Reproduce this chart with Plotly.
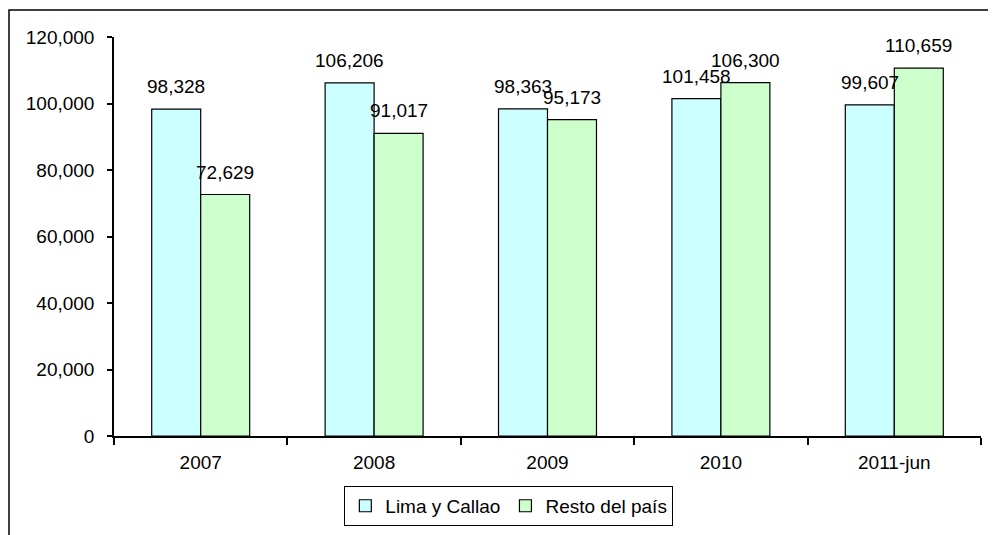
import plotly.graph_objects as go

categories = ["2007", "2008", "2009", "2010", "2011-jun"]
lima_callao = [98328, 106206, 98363, 101458, 99607]
resto_pais = [72629, 91017, 95173, 106300, 110659]
series_names = ["Lima y Callao", "Resto del país"]
y_ticks = [0, 20000, 40000, 60000, 80000, 100000, 120000]

FONT = "Liberation Sans, Arial, sans-serif"
FS = 19

fig = go.Figure()
fig.add_trace(go.Bar(x=categories, y=lima_callao, name=series_names[0],
                     marker=dict(color="#CCFFFF", line=dict(color="black", width=1.2))))
fig.add_trace(go.Bar(x=categories, y=resto_pais, name=series_names[1],
                     marker=dict(color="#CCFFCC", line=dict(color="black", width=1.2))))

annotations = []
for vals, shift in ((lima_callao, -24.5), (resto_pais, 24.5)):
    for i, v in enumerate(vals):
        annotations.append(dict(x=i, y=v, xref="x", yref="y", text=f"{v:,}", showarrow=False,
                                xshift=shift, yshift=10, yanchor="bottom",
                                font=dict(family=FONT, size=FS, color="black")))

fig.update_layout(
    width=996, height=535,
    margin=dict(l=106, r=23, t=29, b=107, autoexpand=False),
    paper_bgcolor="white", plot_bgcolor="white",
    font=dict(family=FONT, size=FS, color="black"),
    barmode="group", bargap=0.435, bargroupgap=0,
    showlegend=True,
    legend=dict(orientation="h", x=0.4554, xanchor="center", y=-0.125, yanchor="top",
                bordercolor="black", borderwidth=1, bgcolor="white",
                font=dict(family=FONT, size=FS), itemwidth=30),
    annotations=annotations,
    shapes=[dict(type="rect", xref="paper", yref="paper",
                 x0=-0.1211, x1=1.1, y0=-0.35, y1=1.0677,
                 line=dict(color="black", width=1.5), layer="below")],
)
fig.update_xaxes(type="category", range=[-0.5, 4.5], showline=True, linecolor="black", linewidth=1.5,
                 ticks="outside", tickson="boundaries", ticklen=7, tickcolor="black",
                 tickwidth=1.5, showgrid=False, zeroline=False, tickangle=0,
                 ticklabelstandoff=8, automargin=False,
                 tickfont=dict(family=FONT, size=FS))
fig.update_yaxes(range=[0, 120000], tickvals=y_ticks, tickformat=",",
                 showline=True, linecolor="black", linewidth=1.5,
                 ticks="outside", ticklen=5, tickcolor="black", tickwidth=1.5,
                 showgrid=False, zeroline=False, ticklabelstandoff=9, automargin=False,
                 tickfont=dict(family=FONT, size=FS))

fig.write_html("out.html")
